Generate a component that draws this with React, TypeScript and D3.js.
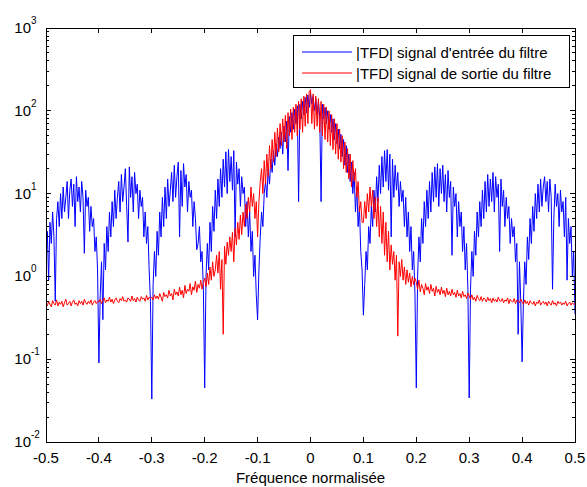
import React from "react";
import * as d3 from "d3";

// |TFD| of input signal (blue), uniform grid from -0.5 to 0.5 (step 0.0025)
const inputMag: number[] = [
  1.3, 3.5, 0.9, 4.5, 2.5, 6, 3, 0.5, 5, 8, 4, 10, 5, 12, 6, 9, 14, 5, 11, 15,
  7, 13, 4, 16, 8, 12, 6, 14, 9, 1.9, 11, 7, 9, 3.5, 7, 4, 5, 2, 3, 1.2,
  0.09, 0.6, 1.5, 0.3, 2.5, 1.2, 4, 2, 6, 3, 8, 4, 11, 5, 9, 14, 6, 17, 8, 12,
  20, 7, 2.6, 21, 9, 16, 6, 18, 10, 13, 5, 11, 7, 9, 3, 6, 2.5, 4, 1.2, 0.5,
  0.033, 0.8, 2, 1, 3.5, 1.8, 6, 3, 9, 4, 12, 5, 15, 7, 11, 18, 8, 22, 9, 16,
  24, 3, 19, 7, 23, 12, 17, 6, 14, 9, 11, 4, 8, 5, 2.1, 2.5, 4, 1.5, 2, 0.7,
  0.045, 1.0, 2.5, 1.2, 4.5, 2, 7, 3.5, 11, 5, 15, 7, 20, 9, 26, 12, 32, 10, 34, 14,
  28, 11, 33, 3, 24, 13, 20, 7, 16, 10, 12, 4, 8, 3, 6, 2, 3.5, 1, 1.8, 0.6,
  0.3, 1.2, 3, 6, 4, 10, 14, 9, 20, 13, 26, 18, 33, 22, 40, 28, 48, 35, 55, 30,
  65, 42, 75, 19, 85, 55, 95, 60, 105, 70, 115, 8, 120, 80, 130, 90, 145, 95, 155, 110,
  165, 120, 150, 100, 140, 90, 130, 85, 8, 120, 80, 110, 70, 100, 60, 90, 55, 80, 45, 70,
  40, 60, 35, 52, 28, 45, 22, 38, 18, 30, 14, 24, 10, 18, 6, 12, 4, 7, 2, 1.2,
  0.34, 0.8, 2, 1.2, 4, 2.5, 7, 4, 11, 6, 16, 8, 22, 10, 28, 12, 33, 14, 34, 11,
  30, 3, 26, 9, 22, 11, 18, 7, 14, 8, 11, 4, 9, 3, 6, 2, 4, 1.2, 2, 0.6,
  0.045, 1.0, 3, 1.5, 5, 2.5, 8, 4, 11, 5, 14, 6, 18, 8, 21, 9, 23, 7, 20, 10,
  22, 8, 17, 6, 19, 9, 14, 1.8, 12, 7, 10, 3, 8, 4, 6, 2, 4, 1.2, 2.5, 0.7,
  0.034, 0.7, 2, 1, 3.5, 1.8, 6, 3, 8, 4, 11, 5, 14, 6, 17, 7, 15, 8, 18, 6,
  16, 9, 13, 2, 15, 7, 11, 4, 9, 5, 7, 2.5, 5, 3, 4, 1.5, 2.5, 0.2, 1.5, 0.5,
  0.093, 0.5, 1.5, 0.8, 3, 1.6, 5, 2.5, 7, 3.5, 10, 5, 13, 6, 15, 7, 12, 16, 8, 14,
  6, 15, 9, 0.7, 5, 13, 7, 10, 4, 11, 6, 8, 3, 9, 0.9, 5, 2.5, 4, 1, 2, 0.35,
];

// |TFD| of output signal (red), same grid
const outputMag: number[] = [
  0.48, 0.44, 0.5, 0.46, 0.43, 0.51, 0.47, 0.45, 0.52, 0.44, 0.49, 0.46, 0.5, 0.43, 0.48, 0.53, 0.45, 0.47, 0.5, 0.44,
  0.49, 0.52, 0.46, 0.48, 0.44, 0.51, 0.47, 0.5, 0.45, 0.53, 0.48, 0.46, 0.5, 0.47, 0.52, 0.45, 0.49, 0.51, 0.47, 0.5,
  0.49, 0.53, 0.47, 0.51, 0.55, 0.48, 0.52, 0.5, 0.56, 0.49, 0.53, 0.47, 0.52, 0.55, 0.5, 0.48, 0.54, 0.51, 0.57, 0.5,
  0.52, 0.49, 0.55, 0.53, 0.5, 0.58, 0.51, 0.54, 0.49, 0.56, 0.52, 0.5, 0.57, 0.53, 0.55, 0.5, 0.59, 0.52, 0.56, 0.54,
  0.56, 0.52, 0.6, 0.54, 0.58, 0.53, 0.62, 0.56, 0.5, 0.64, 0.57, 0.6, 0.55, 0.68, 0.58, 0.62, 0.52, 0.7, 0.6, 0.65,
  0.58, 0.74, 0.6, 0.68, 0.55, 0.78, 0.62, 0.7, 0.66, 0.82, 0.6, 0.75, 0.68, 0.88, 0.64, 0.8, 0.72, 0.9, 0.7, 0.85,
  0.95, 0.75, 1.1, 0.8, 1.3, 0.9, 1.5, 1.0, 1.2, 1.8, 1.1, 2.0, 0.7, 1.6, 0.2, 2.3, 1.4, 2.6, 1.8, 3.0,
  2.0, 3.4, 1.5, 3.8, 2.4, 4.5, 2.8, 5.5, 3.2, 6, 4, 7.5, 5, 9, 6, 12, 7, 10, 5, 8,
  3, 8, 14, 20, 10, 25, 13, 30, 16, 38, 20, 45, 24, 55, 28, 62, 32, 70, 38, 80,
  42, 88, 35, 95, 50, 105, 45, 110, 55, 120, 50, 130, 60, 140, 55, 150, 65, 160, 70, 170,
  180, 70, 160, 60, 150, 65, 140, 55, 130, 50, 120, 45, 110, 42, 100, 38, 90, 34, 80, 30,
  70, 26, 60, 24, 50, 20, 42, 18, 35, 15, 30, 12, 25, 14, 20, 9, 14, 6, 8, 4.5,
  4.5, 8, 5, 10, 6, 12, 7, 11, 5, 9, 4, 9, 3, 7, 2.5, 6, 1.8, 4.5, 1.5, 3.5,
  1.2, 2.4, 1.4, 2, 0.9, 1.8, 0.19, 1.5, 1.0, 1.6, 0.9, 1.3, 0.8, 1.2, 0.85, 1.1, 0.75, 1.0, 0.8, 0.95,
  0.85, 0.7, 0.9, 0.65, 0.8, 0.72, 0.6, 0.82, 0.68, 0.75, 0.62, 0.8, 0.66, 0.72, 0.58, 0.76, 0.64, 0.7, 0.6, 0.74,
  0.62, 0.68, 0.57, 0.72, 0.6, 0.66, 0.58, 0.7, 0.6, 0.64, 0.56, 0.68, 0.58, 0.62, 0.55, 0.66, 0.57, 0.6, 0.54, 0.63,
  0.58, 0.53, 0.6, 0.52, 0.56, 0.5, 0.59, 0.54, 0.51, 0.57, 0.5, 0.55, 0.53, 0.49, 0.56, 0.51, 0.54, 0.48, 0.55, 0.5,
  0.53, 0.49, 0.56, 0.51, 0.5, 0.54, 0.48, 0.52, 0.5, 0.55, 0.47, 0.53, 0.5, 0.49, 0.54, 0.47, 0.52, 0.5, 0.48, 0.53,
  0.49, 0.46, 0.52, 0.47, 0.5, 0.45, 0.51, 0.48, 0.46, 0.5, 0.44, 0.49, 0.47, 0.52, 0.45, 0.48, 0.5, 0.46, 0.49, 0.44,
  0.5, 0.47, 0.45, 0.51, 0.46, 0.48, 0.44, 0.5, 0.47, 0.49, 0.45, 0.48, 0.46, 0.5, 0.44, 0.47, 0.49, 0.45, 0.48, 0.46, 0.47,
];

const xTicks: number[] = [-0.5, -0.4, -0.3, -0.2, -0.1, 0, 0.1, 0.2, 0.3, 0.4, 0.5];
const xTickLabels: string[] = ["-0.5", "-0.4", "-0.3", "-0.2", "-0.1", "0", "0.1", "0.2", "0.3", "0.4", "0.5"];
const yExponents: number[] = [-2, -1, 0, 1, 2, 3];
const legendLabels: string[] = ["|TFD| signal d'entrée du filtre", "|TFD| signal de sortie du filtre"];
const seriesColors: string[] = ["#0000ff", "#ff0000"];
const xLabel = "Fréquence normalisée";

const W = 587, H = 487;
const L = 46, R = 575, T = 28, B = 442;
const FONT = "'Liberation Sans', Arial, Helvetica, sans-serif";
const FS = 15;

export default function App() {
  const x = d3.scaleLinear().domain([-0.5, 0.5]).range([L, R]);
  const y = d3.scaleLog().domain([0.01, 1000]).range([B, T]);

  const mkLine = (vals: number[]) => {
    const n = vals.length;
    const pts: [number, number][] = vals.map((v, i) => [-0.5 + i / (n - 1), v]);
    return d3.line<[number, number]>().x((d) => x(d[0])).y((d) => y(d[1]))(pts) || "";
  };

  const minor: number[] = [];
  for (let e = -2; e < 3; e++) for (let m = 2; m <= 9; m++) minor.push(m * Math.pow(10, e));

  return (
    <svg width={W} height={H} style={{ position: "absolute", left: 0, top: 0, background: "#fff" }} fontFamily={FONT}>
      <defs>
        <clipPath id="plotclip">
          <rect x={L} y={T} width={R - L} height={B - T} />
        </clipPath>
      </defs>
      <rect x={0} y={0} width={W} height={H} fill="#fff" />
      <g clipPath="url(#plotclip)">
        <path d={mkLine(inputMag)} fill="none" stroke={seriesColors[0]} strokeWidth={1} strokeLinejoin="bevel" />
        <path d={mkLine(outputMag)} fill="none" stroke={seriesColors[1]} strokeWidth={1} strokeLinejoin="bevel" />
      </g>
      <rect x={L} y={T} width={R - L} height={B - T} fill="none" stroke="#000" strokeWidth={1} shapeRendering="crispEdges" />
      {xTicks.map((t, i) => (
        <g key={"x" + i}>
          <line x1={x(t)} x2={x(t)} y1={B} y2={B - 5} stroke="#000" shapeRendering="crispEdges" />
          <line x1={x(t)} x2={x(t)} y1={T} y2={T + 5} stroke="#000" shapeRendering="crispEdges" />
          <text x={x(t)} y={B + 21} fontSize={FS} textAnchor="middle" fill="#000">{xTickLabels[i]}</text>
        </g>
      ))}
      {yExponents.map((e) => {
        const yy = y(Math.pow(10, e));
        return (
          <g key={"y" + e}>
            <line x1={L} x2={L + 5} y1={yy} y2={yy} stroke="#000" shapeRendering="crispEdges" />
            <line x1={R} x2={R - 5} y1={yy} y2={yy} stroke="#000" shapeRendering="crispEdges" />
            <text x={31} y={yy + 5} fontSize={FS} textAnchor="end" fill="#000">10</text>
            <text x={31} y={yy - 4} fontSize={10} textAnchor="start" fill="#000">{String(e)}</text>
          </g>
        );
      })}
      {minor.map((v, i) => (
        <g key={"m" + i} shapeRendering="crispEdges">
          <line x1={L} x2={L + 3} y1={y(v)} y2={y(v)} stroke="#000" />
          <line x1={R} x2={R - 3} y1={y(v)} y2={y(v)} stroke="#000" />
        </g>
      ))}
      <text x={(L + R) / 2} y={483} fontSize={FS} textAnchor="middle" fill="#000">{xLabel}</text>
      <g>
        <rect x={293} y={35} width={276} height={52} fill="#fff" stroke="#000" strokeWidth={1} shapeRendering="crispEdges" />
        {legendLabels.map((lab, i) => (
          <g key={"l" + i}>
            <line x1={302} x2={352} y1={52 + i * 21} y2={52 + i * 21} stroke={seriesColors[i]} strokeWidth={1} />
            <text x={356} y={57.5 + i * 21} fontSize={FS} fill="#000">{lab}</text>
          </g>
        ))}
      </g>
    </svg>
  );
}
